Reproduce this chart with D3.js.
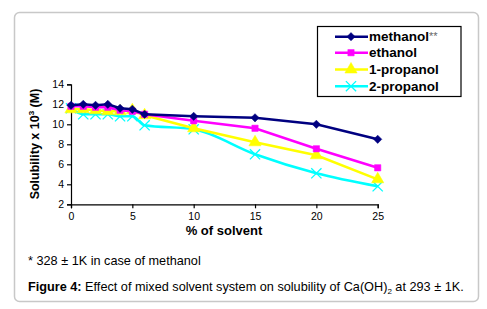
<!DOCTYPE html>
<html>
<head>
<meta charset="utf-8">
<script src="https://cdn.jsdelivr.net/npm/d3@7"></script>
<style>
  body { margin: 0; background: #fff; }
  svg { display: block; font-family: Arial, "Liberation Sans", sans-serif; }
</style>
</head>
<body>
<svg id="chart" width="487" height="309"></svg>
<script>
'use strict';

var solventPct = [0, 1, 2, 3, 4, 5, 6, 10, 15, 20, 25];
var methanol   = [11.9, 12.0, 11.9, 12.0, 11.6, 11.5, 11.0, 10.8, 10.65, 10.0, 8.5];
var ethanol    = [11.8, 11.8, 11.7, 11.7, 11.4, 11.3, 11.0, 10.35, 9.6, 7.55, 5.65];
var propanol1  = [11.5, 11.5, 11.4, 11.3, 11.3, 11.4, 10.9, 9.6, 8.2, 6.9, 4.5];
var propanol2  = [11.6, 11.0, 11.0, 11.0, 10.8, 10.8, 9.9, 9.5, 7.0, 5.1, 3.8];
var seriesNames = ["methanol", "ethanol", "1-propanol", "2-propanol"];
var xTicks = [0, 5, 10, 15, 20, 25];
var yTicks = [2, 4, 6, 8, 10, 12, 14];

var svg = d3.select("#chart");

// outer figure frame
svg.append("rect")
    .attr("x", 14.5).attr("y", 12.5)
    .attr("width", 464).attr("height", 289)
    .attr("rx", 5)
    .attr("fill", "#fff")
    .attr("stroke", "#c8c8c8")
    .attr("stroke-width", 1.5);

var x = d3.scaleLinear().domain([0, 25]).range([71, 377.7]),
    y = d3.scaleLinear().domain([2, 14]).range([204.3, 84.3]);

// axes
var xAxis = svg.append("g")
    .attr("transform", "translate(0," + y(2) + ")")
    .call(d3.axisBottom(x).tickValues(xTicks).tickSize(4).tickPadding(4));
var yAxis = svg.append("g")
    .attr("transform", "translate(" + x(0) + ",0)")
    .call(d3.axisLeft(y).tickValues(yTicks).tickSize(4).tickPadding(3));

[xAxis, yAxis].forEach(function(a) {
    a.select(".domain").attr("stroke", "#000").attr("stroke-width", 1.2);
    a.selectAll(".tick line").attr("stroke", "#000").attr("stroke-width", 1.2);
    a.selectAll(".tick text")
        .attr("fill", "#000")
        .style("font-family", "Arial, 'Liberation Sans', sans-serif")
        .style("font-size", "10.5px");
});

// axis titles
svg.append("text")
    .attr("x", 224).attr("y", 235)
    .attr("text-anchor", "middle")
    .attr("font-weight", "bold")
    .attr("font-size", 13)
    .text("% of solvent");

var yTitle = svg.append("text")
    .attr("transform", "translate(39,144) rotate(-90)")
    .attr("text-anchor", "middle")
    .attr("font-weight", "bold")
    .attr("font-size", 12.5);
yTitle.append("tspan").text("Solubility x 10");
yTitle.append("tspan").attr("font-size", 8).attr("dy", -5).text("3");
yTitle.append("tspan").attr("dy", 5).text(" (M)");

// series
var series = [
    { name: seriesNames[0], values: methanol,  color: "#000080", marker: "diamond",  curve: d3.curveLinear },
    { name: seriesNames[1], values: ethanol,   color: "#ff00ff", marker: "square",   curve: d3.curveLinear },
    { name: seriesNames[2], values: propanol1, color: "#ffff00", marker: "triangle", curve: d3.curveLinear },
    { name: seriesNames[3], values: propanol2, color: "#00ffff", marker: "cross",    curve: d3.curveMonotoneX }
];

var symbols = {
    diamond:  d3.symbol().type(d3.symbolSquare).size(34),
    square:   d3.symbol().type(d3.symbolSquare).size(40),
    triangle: d3.symbol().type(d3.symbolTriangle).size(65),
    cross:    d3.symbol().type(d3.symbolX).size(70)
};

function drawMarker(g, s, px, py) {
    var m = g.append("path")
        .attr("d", symbols[s.marker]())
        .attr("transform", "translate(" + px + "," + py + ")" + (s.marker === "diamond" ? " rotate(45)" : ""));
    if (s.marker === "cross") {
        m.attr("fill", "none").attr("stroke", s.color).attr("stroke-width", 1.3);
    } else {
        m.attr("fill", s.color).attr("stroke", s.color).attr("stroke-width", 0.5);
    }
}

// draw back to front so methanol is on top
series.slice().reverse().forEach(function(s) {
    var g = svg.append("g");
    var line = d3.line()
        .x(function(d, i) { return x(solventPct[i]); })
        .y(function(d) { return y(d); })
        .curve(s.curve);
    g.append("path")
        .attr("d", line(s.values))
        .attr("fill", "none")
        .attr("stroke", s.color)
        .attr("stroke-width", 2.5);
    s.values.forEach(function(v, i) {
        drawMarker(g, s, x(solventPct[i]), y(v));
    });
});

// legend
var legend = svg.append("g");
legend.append("rect")
    .attr("x", 317.5).attr("y", 26.5)
    .attr("width", 143.5).attr("height", 70)
    .attr("fill", "#fff")
    .attr("stroke", "#000")
    .attr("stroke-width", 1.2);

var rowY = [36.7, 52.7, 69.5, 86.2];
series.forEach(function(s, i) {
    var ly = rowY[i];
    legend.append("line")
        .attr("x1", 335).attr("x2", 368)
        .attr("y1", ly).attr("y2", ly)
        .attr("stroke", s.color)
        .attr("stroke-width", 2.5);
    drawMarker(legend, s, 351, ly);
    var t = legend.append("text")
        .attr("x", 369).attr("y", ly + 4.7)
        .attr("font-weight", "bold")
        .attr("font-size", 13.5)
        .attr("fill", "#000")
        .text(s.name);
    if (i === 0) {
        t.append("tspan").attr("fill", "#666").attr("font-weight", "normal")
            .attr("font-size", 11).attr("dy", -1).text("**");
    }
});

// footnote and caption
svg.append("text")
    .attr("x", 28).attr("y", 265)
    .attr("font-size", 12.7)
    .text("* 328 \u00b1 1K in case of methanol");

var cap = svg.append("text")
    .attr("x", 28).attr("y", 291)
    .attr("font-size", 12.7);
cap.append("tspan").attr("font-weight", "bold").text("Figure 4:");
cap.append("tspan").text(" Effect of mixed solvent system on solubility of Ca(OH)");
cap.append("tspan").attr("font-size", 8).attr("dy", 3).text("2");
cap.append("tspan").attr("dy", -3).text(" at 293 \u00b1 1K.");
</script>
</body>
</html>
